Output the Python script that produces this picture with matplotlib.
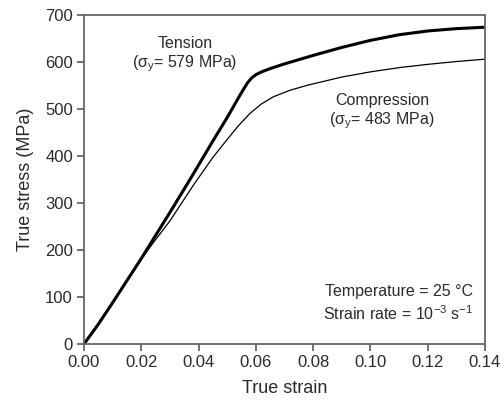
import matplotlib
matplotlib.use("Agg")
import matplotlib.pyplot as plt

plt.rcParams['font.family'] = ['Liberation Sans', 'DejaVu Sans']
plt.rcParams['mathtext.fontset'] = 'custom'
plt.rcParams['mathtext.rm'] = 'Liberation Sans'
plt.rcParams['mathtext.it'] = 'Liberation Sans'

tension_strain = [0, 0.005, 0.01, 0.02, 0.03, 0.037, 0.045, 0.05, 0.0545, 0.057, 0.0585,
                  0.06, 0.062, 0.065, 0.07, 0.075, 0.08, 0.09, 0.1, 0.11,
                  0.12, 0.13, 0.14]
tension_stress = [0, 42, 88, 182, 280, 350, 432, 482, 530, 555, 566,
                  573, 579, 586, 596, 605, 614, 631, 646, 658,
                  666, 671, 674]
comp_strain = [0, 0.01, 0.02, 0.024, 0.03, 0.0382, 0.045, 0.0497, 0.054, 0.058, 0.062,
               0.0661, 0.072, 0.0783, 0.09, 0.1, 0.11, 0.12, 0.13, 0.14]
comp_stress = [0, 88, 180, 214, 262, 338, 397, 433, 465, 491, 511,
               526, 540, 551, 568, 579, 588, 595, 601, 606]

xticks = [0.00, 0.02, 0.04, 0.06, 0.08, 0.10, 0.12, 0.14]
yticks = [0, 100, 200, 300, 400, 500, 600, 700]

fig = plt.figure(figsize=(5.04, 4.05), dpi=100)
ax = fig.add_axes([84/504, 61/405, 401/504, 329/405])

ax.plot(tension_strain, tension_stress, color='black', lw=2.2, solid_capstyle='butt',
        solid_joinstyle='round')
ax.plot(comp_strain, comp_stress, color='black', lw=0.9, solid_joinstyle='round')

ax.set_xlim(0, 0.14)
ax.set_ylim(0, 700)
ax.set_xticks(xticks)
ax.set_xticklabels([f"{v:.2f}" for v in xticks])
ax.set_yticks(yticks)

txtc = '#2a2a2a'
for s in ax.spines.values():
    s.set_color('#666666')
    s.set_linewidth(1.3)
ax.tick_params(direction='out', length=5, width=1.3, color='#666666',
               labelsize=12, labelcolor=txtc, pad=3)

ax.set_xlabel('True strain', fontsize=13, color=txtc, labelpad=7)
ax.set_ylabel('True stress (MPa)', fontsize=13, color=txtc, labelpad=8)

fs = 11.5
ax.text(0.0353, 640, 'Tension', ha='center', va='center', fontsize=fs, color=txtc)
ax.text(0.0353, 596, r'($\mathregular{\sigma_y}$= 579 MPa)', ha='center', va='center',
        fontsize=fs, color=txtc)
ax.text(0.104, 518, 'Compression', ha='center', va='center', fontsize=fs, color=txtc)
ax.text(0.104, 476, r'($\mathregular{\sigma_y}$= 483 MPa)', ha='center', va='center',
        fontsize=fs, color=txtc)
ax.text(0.1358, 112, u'Temperature = 25 \u00b0C', ha='right', va='center', fontsize=fs, color=txtc)
ax.text(0.1358, 64, r'Strain rate = 10$\mathregular{^{-3}}$ s$\mathregular{^{-1}}$', ha='right',
        va='center', fontsize=fs, color=txtc)

fig.savefig('out.png', dpi=100)
